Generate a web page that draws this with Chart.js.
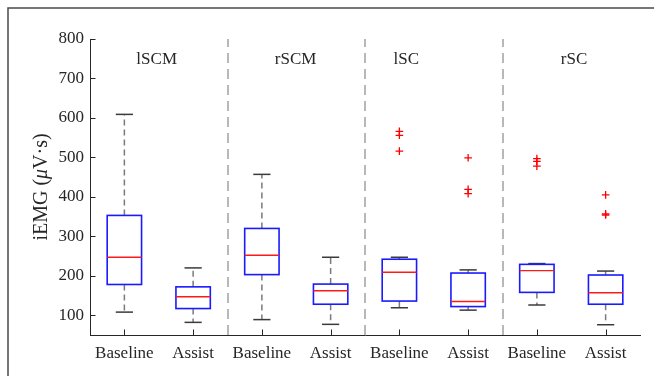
<!DOCTYPE html>
<html><head><meta charset="utf-8">
<script src="https://cdn.jsdelivr.net/npm/chart.js@4.4.1/dist/chart.umd.min.js"></script>
<style>html,body{margin:0;padding:0;background:#fff;}#wrap{width:654px;height:376px;position:relative;}</style>
</head><body><div id="wrap"><canvas id="c" width="654" height="376"></canvas></div>
<script>
const categories = ['Baseline','Assist','Baseline','Assist','Baseline','Assist','Baseline','Assist'];
const groups = ['lSCM','rSCM','lSC','rSC'];
const groupPos = [1.47, 3.49, 5.1, 7.54];
const whiskerLow  = [108, 82, 89, 77, 119, 113, 126, 76];
const q1          = [178, 117, 203, 128, 136, 122, 158, 128];
const median      = [247, 147, 252, 162, 209, 135, 213, 157];
const q3          = [353, 172, 320, 179, 242, 207, 229, 202];
const whiskerHigh = [609, 220, 457, 247, 247, 215, 231, 212];
const outliers    = [[], [], [], [], [566, 556, 516], [499, 419, 408], [497, 490, 478], [405, 357, 354]];
const yTicks = [100, 200, 300, 400, 500, 600, 700, 800];
const yLabel = ['iEMG (', 'μ', 'V·s)'];

const FONT = 'Liberation Serif';
const TXT = '#262626';

const outlierPts = [];
outliers.forEach((arr, i) => arr.forEach(v => outlierPts.push({x: i + 1, y: v})));

const boxPlugin = {
  id: 'boxes',
  beforeDraw(chart) {
    const ctx = chart.ctx;
    ctx.save();
    ctx.fillStyle = '#fff';
    ctx.fillRect(0, 0, chart.width, chart.height);
    ctx.strokeStyle = '#4a4a4a';
    ctx.lineWidth = 1.5;
    ctx.beginPath();
    ctx.moveTo(8, chart.height); ctx.lineTo(8, 8); ctx.lineTo(chart.width, 8);
    ctx.stroke();
    ctx.restore();
  },
  beforeDatasetsDraw(chart) {
    const ctx = chart.ctx, xs = chart.scales.x, ys = chart.scales.y;
    const a = chart.chartArea;
    ctx.save();
    ctx.strokeStyle = '#b8b8b8'; ctx.lineWidth = 2; ctx.setLineDash([10, 6]);
    [2.5, 4.5, 6.5].forEach(p => {
      const x = Math.round(xs.getPixelForValue(p));
      ctx.beginPath(); ctx.moveTo(x, a.bottom); ctx.lineTo(x, a.top); ctx.stroke();
    });
    const halfBox = 0.25, halfCap = 0.125;
    for (let i = 0; i < categories.length; i++) {
      const c = i + 1;
      const xc = xs.getPixelForValue(c);
      const xl = xs.getPixelForValue(c - halfBox), xr = xs.getPixelForValue(c + halfBox);
      const cl = xs.getPixelForValue(c - halfCap), cr = xs.getPixelForValue(c + halfCap);
      const yLo = ys.getPixelForValue(whiskerLow[i]), yQ1 = ys.getPixelForValue(q1[i]);
      const yMed = ys.getPixelForValue(median[i]), yQ3 = ys.getPixelForValue(q3[i]);
      const yHi = ys.getPixelForValue(whiskerHigh[i]);
      ctx.strokeStyle = '#7a7a7a'; ctx.lineWidth = 1.5; ctx.setLineDash([6, 4]);
      ctx.beginPath(); ctx.moveTo(xc, yQ3); ctx.lineTo(xc, yHi); ctx.stroke();
      ctx.beginPath(); ctx.moveTo(xc, yQ1); ctx.lineTo(xc, yLo); ctx.stroke();
      ctx.setLineDash([]);
      ctx.strokeStyle = '#3a3a3a'; ctx.lineWidth = 1.5;
      ctx.beginPath(); ctx.moveTo(cl, yHi); ctx.lineTo(cr, yHi); ctx.stroke();
      ctx.beginPath(); ctx.moveTo(cl, yLo); ctx.lineTo(cr, yLo); ctx.stroke();
      ctx.strokeStyle = '#1a1aff'; ctx.lineWidth = 1.6;
      ctx.strokeRect(xl, yQ3, xr - xl, yQ1 - yQ3);
      ctx.strokeStyle = '#ff1a1a'; ctx.lineWidth = 1.4;
      ctx.beginPath(); ctx.moveTo(xl, yMed); ctx.lineTo(xr, yMed); ctx.stroke();
    }
    ctx.restore();
  },
  afterDraw(chart) {
    const ctx = chart.ctx, xs = chart.scales.x, ys = chart.scales.y;
    const a = chart.chartArea;
    ctx.save();
    ctx.strokeStyle = TXT; ctx.lineWidth = 1;
    yTicks.forEach(v => {
      const y = Math.round(ys.getPixelForValue(v)) + 0.5;
      ctx.beginPath(); ctx.moveTo(a.left, y); ctx.lineTo(a.left + 5.5, y); ctx.stroke();
    });
    for (let c = 1; c <= categories.length; c++) {
      const x = Math.round(xs.getPixelForValue(c)) + 0.5;
      ctx.beginPath(); ctx.moveTo(x, a.bottom); ctx.lineTo(x, a.bottom - 5.5); ctx.stroke();
    }
    ctx.fillStyle = TXT; ctx.font = '17px "' + FONT + '"';
    ctx.textAlign = 'center'; ctx.textBaseline = 'middle';
    groups.forEach((g, i) => ctx.fillText(g, xs.getPixelForValue(groupPos[i]), 60));
    ctx.translate(42, (a.top + a.bottom) / 2);
    ctx.rotate(-Math.PI / 2);
    const fN = '20px "' + FONT + '"', fI = 'italic 20px "' + FONT + '"';
    const fonts = [fN, fI, fN];
    let w = 0;
    yLabel.forEach((s, i) => { ctx.font = fonts[i]; w += ctx.measureText(s).width; });
    let x = -w / 2;
    ctx.textAlign = 'left';
    yLabel.forEach((s, i) => { ctx.font = fonts[i]; ctx.fillText(s, x, 0); x += ctx.measureText(s).width; });
    ctx.restore();
  }
};

new Chart(document.getElementById('c'), {
  type: 'scatter',
  data: {
    datasets: [{
      data: outlierPts,
      pointStyle: 'cross',
      radius: 3.8,
      borderColor: '#ff0000',
      backgroundColor: '#ff0000',
      borderWidth: 1.3,
      hoverRadius: 3.8
    }]
  },
  options: {
    responsive: false,
    animation: false,
    events: [],
    layout: { padding: { top: 39, right: 14, left: 0, bottom: 0 } },
    plugins: { legend: { display: false }, tooltip: { enabled: false } },
    scales: {
      x: {
        type: 'linear', min: 0.5, max: 8.5,
        afterBuildTicks: s => { s.ticks = categories.map((_, i) => ({ value: i + 1 })); },
        afterFit: s => { s.height = 41; },
        grid: { display: false, drawTicks: false },
        border: { display: true, color: TXT, width: 1 },
        ticks: {
          autoSkip: false, maxRotation: 0, padding: 8,
          color: TXT, font: { family: FONT, size: 17 },
          callback: (v, i) => categories[i]
        }
      },
      y: {
        type: 'linear', min: 50, max: 800,
        afterBuildTicks: s => { s.ticks = yTicks.map(v => ({ value: v })); },
        afterFit: s => { s.width = 90; },
        grid: { display: false, drawTicks: false },
        border: { display: true, color: TXT, width: 1 },
        ticks: { padding: 6, color: TXT, font: { family: FONT, size: 17 } }
      }
    }
  },
  plugins: [boxPlugin]
});
</script>
</body></html>
